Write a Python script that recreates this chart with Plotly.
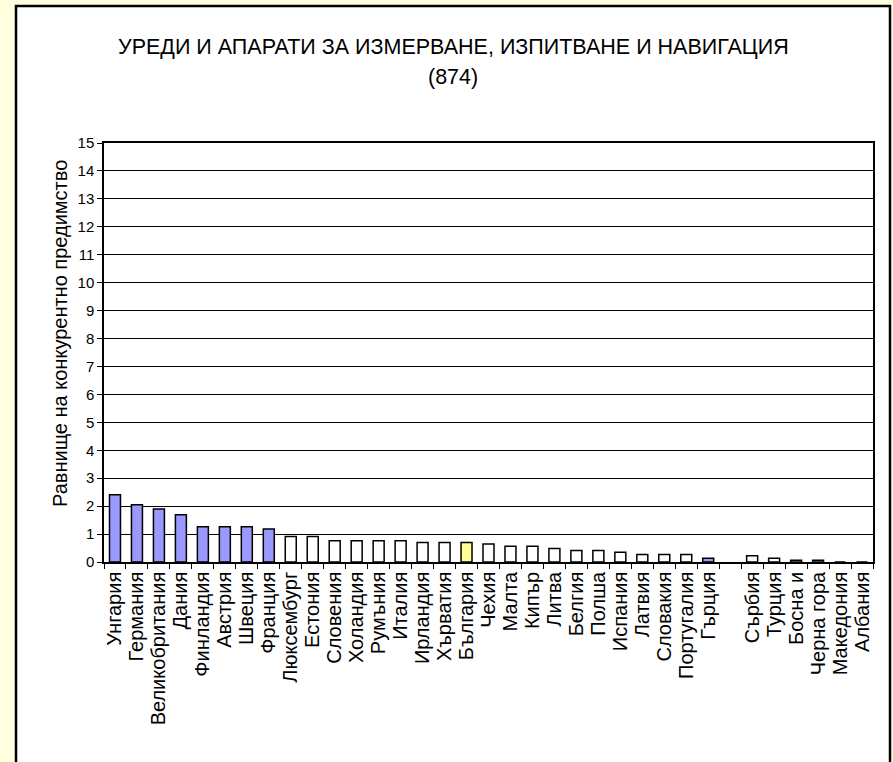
import plotly.graph_objects as go

categories = ["Унгария", "Германия", "Великобритания", "Дания", "Финландия", "Австрия",
              "Швеция", "Франция", "Люксембург", "Естония", "Словения", "Холандия",
              "Румъния", "Италия", "Ирландия", "Хърватия", "България", "Чехия", "Малта",
              "Кипър", "Литва", "Белгия", "Полша", "Испания", "Латвия", "Словакия",
              "Португалия", "Гърция", " ", "Сърбия", "Турция", "Босна и", "Черна гора",
              "Македония", "Албания"]
values = [2.41, 2.05, 1.90, 1.69, 1.26, 1.26, 1.26, 1.18, 0.91, 0.91, 0.76, 0.76,
          0.76, 0.76, 0.70, 0.70, 0.70, 0.64, 0.56, 0.56, 0.48, 0.41, 0.41, 0.35,
          0.27, 0.27, 0.27, 0.13, None, 0.22, 0.13, 0.06, 0.06, 0.0, 0.0]
blue_group = ["Унгария", "Германия", "Великобритания", "Дания", "Финландия", "Австрия",
              "Швеция", "Франция", "Гърция"]
highlight = ["България"]
yticks = list(range(0, 16))

title_line1 = "УРЕДИ И АПАРАТИ ЗА ИЗМЕРВАНЕ, ИЗПИТВАНЕ И НАВИГАЦИЯ"
title_line2 = "(874)"
y_title = "Равнище на конкурентно предимство"

colors = []
for c in categories:
    if c in blue_group:
        colors.append("#9999FF")
    elif c in highlight:
        colors.append("#FFFF99")
    else:
        colors.append("#FFFFFF")

FONT = "Liberation Sans, Arial, sans-serif"
BG = "#FFFFE0"

fig = go.Figure(go.Bar(
    x=categories, y=values,
    marker=dict(color=colors, line=dict(color="black", width=1.5)),
    width=0.5,
))

W, H = 893, 762
L, R, T, B = 104, 20, 143, 200
pw = W - L - R
ph = H - T - B

def px(xp):
    return (xp - L) / pw

def py(yp):
    return (H - B - yp) / ph

fig.update_layout(
    width=W, height=H,
    margin=dict(l=L, r=R, t=T, b=B),
    paper_bgcolor=BG,
    plot_bgcolor="white",
    showlegend=False,
    font=dict(family=FONT, color="black"),
    shapes=[dict(type="rect", xref="paper", yref="paper",
                 x0=px(16), x1=px(890), y0=py(800), y1=py(6),
                 fillcolor="white", line=dict(color="black", width=2.5),
                 layer="below")],
    annotations=[
        dict(text=title_line1, xref="paper", yref="paper", x=px(453), y=py(47),
             xanchor="center", yanchor="middle", showarrow=False,
             font=dict(size=21.5, family=FONT)),
        dict(text=title_line2, xref="paper", yref="paper", x=px(453), y=py(77),
             xanchor="center", yanchor="middle", showarrow=False,
             font=dict(size=21.5, family=FONT)),
        dict(text=y_title, xref="paper", yref="paper", x=px(60), y=py(334),
             xanchor="center", yanchor="middle", showarrow=False, textangle=-90,
             font=dict(size=20, family=FONT)),
    ],
)

fig.update_xaxes(
    type="category", range=[-0.5, len(categories) - 0.5],
    tickmode="array", tickvals=categories, ticktext=categories,
    tickangle=-90, ticks="outside", tickson="boundaries", ticklen=5,
    tickcolor="black", showline=True, linecolor="black", linewidth=1.5, mirror=True,
    showgrid=False, tickfont=dict(size=20, family=FONT),
)
fig.update_yaxes(
    range=[0, 15], tickvals=yticks, ticks="outside", ticklen=5, tickcolor="black",
    showline=True, linecolor="black", linewidth=1.5, mirror=True,
    showgrid=True, gridcolor="black", gridwidth=1, zeroline=False,
    tickfont=dict(size=15, family=FONT),
)

fig.write_html(
    "out.html",
    config={"displayModeBar": False},
    post_script="document.body.style.margin='0';document.body.style.background='%s';" % BG,
)
